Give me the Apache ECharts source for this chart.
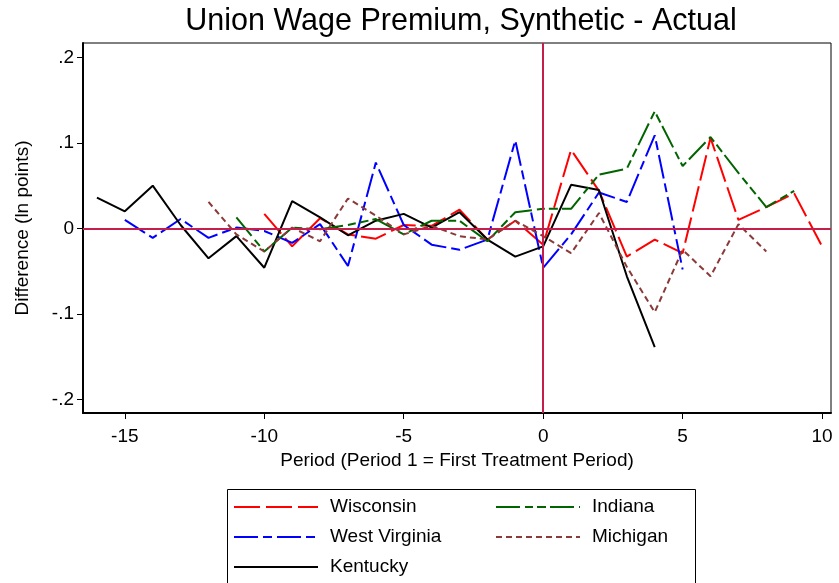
<!DOCTYPE html>
<html>
<head>
    <meta charset="utf-8">
    <title>Union Wage Premium</title>
    <script src="https://cdn.jsdelivr.net/npm/echarts@6/dist/echarts.min.js"></script>
</head>
<body style="margin:0">
<div id="main" style="width: 839px;height:583px;"></div>
<script type="text/javascript">
    // 数据：各州 合成 - 实际 的差值
    var wisconsinPeriods = [-10, -9, -8, -7, -6, -5, -4, -3, -2, -1, 0, 1, 2, 3, 4, 5, 6, 7, 8, 9, 10];
    var wisconsin = [0.017, -0.021, 0.012, -0.007, -0.012, 0.004, 0.003, 0.022, -0.013, 0.009, -0.019, 0.092, 0.044, -0.033, -0.013, -0.029, 0.106, 0.010, 0.025, 0.041, -0.021];

    var westVirginiaPeriods = [-15, -14, -13, -12, -11, -10, -9, -8, -7, -6, -5, -4, -3, -2, -1, 0, 1, 2, 3, 4, 5];
    var westVirginia = [0.010, -0.011, 0.011, -0.011, 0.001, -0.003, -0.017, 0.005, -0.044, 0.077, 0.004, -0.019, -0.025, -0.013, 0.103, -0.046, -0.007, 0.042, 0.031, 0.109, -0.048];

    var kentuckyPeriods = [-16, -15, -14, -13, -12, -11, -10, -9, -8, -7, -6, -5, -4, -3, -2, -1, 0, 1, 2, 3, 4];
    var kentucky = [0.036, 0.020, 0.050, 0.004, -0.035, -0.009, -0.046, 0.032, 0.013, -0.008, 0.009, 0.017, 0.001, 0.019, -0.013, -0.033, -0.021, 0.051, 0.045, -0.056, -0.139];

    var indianaPeriods = [-11, -10, -9, -8, -7, -6, -5, -4, -3, -2, -1, 0, 1, 2, 3, 4, 5, 6, 7, 8, 9];
    var indiana = [0.013, -0.027, 0.001, -0.001, 0.004, 0.011, -0.007, 0.009, 0.009, -0.015, 0.019, 0.023, 0.023, 0.063, 0.070, 0.137, 0.073, 0.107, 0.065, 0.025, 0.044];

    var michiganPeriods = [-12, -11, -10, -9, -8, -7, -6, -5, -4, -3, -2, -1, 0, 1, 2, 3, 4, 5, 6, 7, 8];
    var michigan = [0.031, -0.007, -0.027, 0.001, -0.015, 0.035, 0.015, -0.007, 0.003, -0.009, -0.013, 0.009, -0.009, -0.029, 0.018, -0.045, -0.098, -0.025, -0.056, 0.005, -0.027];

    var xTicks = [-15, -10, -5, 0, 5, 10];
    var yTicks = [-0.2, -0.1, 0, 0.1, 0.2];
    var yTickLabels = ['-.2', '-.1', '0', '.1', '.2'];

    function pairs(xs, ys) {
        return xs.map(function (x, i) { return [x, ys[i]]; });
    }

    var font = 'Liberation Sans, Arial, Helvetica, sans-serif';
    var refColor = '#c41e4a';

    var myChart = echarts.init(document.getElementById('main'));

    function lineSeries(name, data, color, dash) {
        return {
            name: name,
            type: 'line',
            data: data,
            symbol: 'none',
            lineStyle: { color: color, width: 2, type: dash },
            itemStyle: { color: color },
            z: 3
        };
    }

    var series = [
        lineSeries('Wisconsin', pairs(wisconsinPeriods, wisconsin), '#ff0000', [26, 6]),
        lineSeries('West Virginia', pairs(westVirginiaPeriods, westVirginia), '#0000ff', [24, 5, 9, 5]),
        lineSeries('Kentucky', pairs(kentuckyPeriods, kentucky), '#000000', 'solid'),
        lineSeries('Indiana', pairs(indianaPeriods, indiana), '#006400', [24, 5, 8, 4, 9, 4]),
        lineSeries('Michigan', pairs(michiganPeriods, michigan), '#8b3a3a', [6, 4])
    ];
    // 参考线 x=0, y=0
    series.push({
        name: 'ref',
        type: 'line',
        data: [],
        silent: true,
        markLine: {
            silent: true,
            symbol: 'none',
            label: { show: false },
            lineStyle: { color: refColor, width: 2, type: 'solid' },
            data: [{ xAxis: 0 }, { yAxis: 0 }]
        },
        z: 2
    });

    var legendCommon = {
        orient: 'vertical',
        top: 497,
        padding: 0,
        icon: 'inherit',
        itemWidth: 84,
        itemHeight: 14,
        itemGap: 10,
        itemStyle: { opacity: 0 },
        textStyle: { fontFamily: font, fontSize: 19, lineHeight: 20, color: '#000', padding: [0, 0, 0, 7] }
    };

    option = {
        animation: false,
        title: {
            text: 'Union Wage Premium, Synthetic - Actual',
            left: 456,
            textAlign: 'center',
            top: 1,
            textStyle: { fontFamily: font, fontSize: 30.5, fontWeight: 'normal', color: '#000' }
        },
        legend: [
            Object.assign({}, legendCommon, { left: 233, data: ['Wisconsin', 'West Virginia', 'Kentucky'] }),
            Object.assign({}, legendCommon, { left: 495, data: ['Indiana', 'Michigan'] })
        ],
        graphic: [{
            type: 'rect',
            left: 225,
            top: 487,
            shape: { width: 468, height: 120 },
            style: { fill: 'none', stroke: '#000', lineWidth: 1 },
            silent: true
        }],
        grid: {
            left: 83,
            right: 8,
            top: 43,
            bottom: 170,
            show: true,
            borderColor: '#000',
            borderWidth: 1
        },
        xAxis: {
            type: 'value',
            min: -16.5,
            max: 10.32,
            name: 'Period (Period 1 = First Treatment Period)',
            nameLocation: 'middle',
            nameGap: 37,
            nameTextStyle: { fontFamily: font, fontSize: 19, color: '#000' },
            axisLine: { show: true, onZero: false, lineStyle: { color: '#000', width: 2 } },
            axisTick: { show: true, length: 6, customValues: xTicks, lineStyle: { color: '#000' } },
            axisLabel: { customValues: xTicks, fontFamily: font, fontSize: 19, color: '#000', margin: 14 },
            splitLine: { show: false }
        },
        yAxis: {
            type: 'value',
            min: -0.216,
            max: 0.217,
            name: 'Difference (ln points)',
            nameLocation: 'middle',
            nameGap: 51,
            nameTextStyle: { fontFamily: font, fontSize: 19, color: '#000' },
            axisLine: { show: true, onZero: false, lineStyle: { color: '#000', width: 2 } },
            axisTick: { show: true, length: 6, customValues: yTicks, lineStyle: { color: '#000' } },
            axisLabel: {
                customValues: yTicks,
                fontFamily: font, fontSize: 19, color: '#000', margin: 9,
                formatter: function (v) {
                    var i = yTicks.findIndex(function (t) { return Math.abs(t - v) < 1e-9; });
                    return i >= 0 ? yTickLabels[i] : '';
                }
            },
            splitLine: { show: false }
        },
        series: series
    };
    myChart.setOption(option);
</script>
</body>
</html>
